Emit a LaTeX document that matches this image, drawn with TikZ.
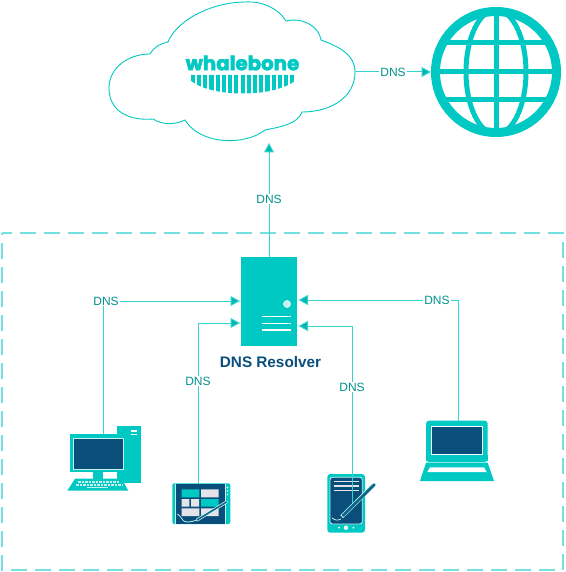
\documentclass[tikz,border=0pt]{standalone}
\usepackage{fontspec}
\setmainfont{Liberation Sans}
\newfontfamily\logofont{Poppins}
\usetikzlibrary{arrows.meta}
\definecolor{teal1}{HTML}{00C9C4}
\definecolor{navy1}{HTML}{0A4F7B}
\definecolor{pale1}{HTML}{C5F0EE}
\definecolor{grey1}{HTML}{E4E4E8}
\tikzset{
  link/.style={draw=teal1!80!white,line width=1pt,-{Triangle[length=9.5pt,width=10pt,fill=teal1!90!black]}},
  dnslabel/.style={fill=white,inner sep=1pt,text=teal1!72!black,font=\fontsize{12}{14}\selectfont},
  bright/.style={fill=teal1,draw=none},
  screen/.style={fill=navy1,draw=pale1,line width=0.8pt},
}
\begin{document}
\begin{tikzpicture}[x=1pt,y=-1pt]
\useasboundingbox (0,0) rectangle (565,572);
% boundary
\draw[teal1!55!white,line width=1.3pt,dash pattern=on 16pt off 8pt,dash phase=6pt] (2,233) -- (563,233) -- (563,570) -- (2,570) -- cycle;
% cloud
\draw[teal1,line width=0.9pt,fill=white]
  (150,54) .. controls (155,46) and (160,44) .. (168,42)
  .. controls (178,18) and (215,2) .. (245,2)
  .. controls (262,1) and (278,8) .. (286,21)
  .. controls (302,17) and (319,26) .. (321,40)
  .. controls (340,47) and (355,55) .. (355,72)
  .. controls (355,98) and (330,112) .. (302,112)
  .. controls (298,124) and (280,127) .. (265,130)
  .. controls (245,146) and (200,145) .. (185,120)
  .. controls (175,125) and (162,125) .. (153,119)
  .. controls (130,121) and (109,112) .. (109,88)
  .. controls (109,68) and (128,54) .. (150,54) -- cycle;
\node[text=teal1,inner sep=0pt,font=\logofont\bfseries\fontsize{19.8}{20}\selectfont] (logo) at (242.5,63) {\special{pdf:literal direct 2 Tr 0.5 w}whalebone\special{pdf:literal direct 0 Tr}};
\begin{scope}
  \clip (190,75) -- (296,75) -- (296,80) .. controls (275,98) and (210,98) .. (190,80) -- cycle;
  \foreach \i in {0,...,16} \fill[teal1] ({190+\i*6.22+0.8},74) rectangle ({190+\i*6.22+4.9},97);
\end{scope}
% globe
\node[circle,draw=teal1,line width=9pt,minimum size=121pt,inner sep=0pt] (globe) at (496,72) {};
\begin{scope}
  \clip (496,72) circle (62pt);
  \draw[teal1,line width=5pt] (431,43)--(561,43) (431,72)--(561,72) (431,100)--(561,100) (496,7)--(496,137);
  \draw[teal1,line width=5pt] (496,72) ellipse (30pt and 62pt);
\end{scope}
% server
\node[rectangle,bright,minimum width=56pt,minimum height=89pt,inner sep=0pt] (server) at (269,301) {};
\fill[pale1,draw=white,line width=0.5pt] (287,304) circle (3.5pt);
\draw[white,line width=1.3pt] (262,316.3)--(290.7,316.3) (262,323.3)--(290.7,323.3) (262,330)--(290.7,330);
\node[text=navy1,font=\bfseries\fontsize{15.3}{17}\selectfont,inner sep=0pt] (srvlabel) at (270.5,362) {DNS Resolver};
\coordinate (srvtop) at (269,256.7);
\coordinate (srvin1) at (240,301);
\coordinate (srvin2) at (240,323);
\coordinate (srvin3) at (298.5,326);
\coordinate (srvin4) at (298.5,300);
\coordinate (cloudbottom) at (269,143);
\coordinate (cloudright) at (355,72);
\coordinate (globeleft) at (431,72);
% pc
\coordinate (pcport) at (103,434);
\fill[teal1] (117,426) rectangle (140.7,482.7);
\draw[white,line width=1.1pt] (131,431)--(136.7,431) (131,434.2)--(136.7,434.2);
\fill[teal1] (70,434) rectangle (127.7,472.3);
\draw[screen] (73.3,438.3) rectangle (123.3,469.3);
\fill[teal1] (93.3,472.3) rectangle (102.7,479);
\fill[teal1] (75,478.7)--(121.7,478.7)--(128.3,490.7)--(67.3,490.7)--cycle;
\foreach \y/\a/\b in {482/78/119,485/76/122} \draw[pale1,line width=1.3pt,dash pattern=on 2.5pt off 1pt] (\a,\y)--(\b,\y);
\draw[pale1,line width=1.3pt] (87,487.8)--(108,487.8);
% tablet
\coordinate (tabport) at (198,484);
\fill[teal1,rounded corners=2pt] (172.3,483.3) rectangle (230.3,524);
\fill[pale1] (175.2,484) rectangle (226.2,523.6);
\fill[navy1] (176.3,484) rectangle (225,523.6);
\fill[teal1] (181.7,489.3) rectangle (199.3,497.3) (201,499) rectangle (218.7,506.7);
\fill[grey1] (201,489.3) rectangle (218.7,497.3) (181.7,499) rectangle (189.3,506.7) (191,499) rectangle (199,506.7)
  (181.7,508.3) rectangle (199.3,516) (201,508.3) rectangle (218.7,516);
\draw[pale1,line width=3pt,line cap=round] (226.5,502)--(197,520);
\draw[navy1!80!teal1,line width=1.5pt,line cap=round] (226.5,502)--(197,520);
\draw[pale1,line width=0.8pt] (177.5,514) .. controls (183,518) and (182,522) .. (187,522) .. controls (191,522) and (194,521) .. (197,520);
\fill[white] (227.5,487.5) circle (0.9pt) (227.5,491) circle (0.9pt) (227.5,494.5) circle (0.9pt);
% pda
\coordinate (pdaport) at (352,503);
\fill[teal1,rounded corners=3pt] (327.3,474) rectangle (365,532.7);
\draw[screen,rounded corners=2.5pt] (330,477.3) rectangle (362.3,524);
\draw[grey1,line width=1.4pt] (334,481.7)--(359.3,481.7) (334,486)--(359.3,486) (334,490.3)--(359.3,490.3);
\draw[pale1,line width=0.8pt] (332,518) .. controls (335,520) and (337,521) .. (341,519);
\draw[pale1,line width=4pt] (373.5,485)--(341.7,516.7);
\fill[white] (339,527.7) circle (1pt) (346,527.7) circle (2.2pt) (353.3,527.7) circle (1pt);
% laptop
\coordinate (lapport) at (458,421);
\fill[teal1,rounded corners=3pt] (426,420.7) rectangle (487.7,462);
\fill[teal1] (426,455) rectangle (487.7,460.7);
\draw[fill=navy1,draw=white,line width=0.7pt] (431.7,426) rectangle (482.7,454.3);
\fill[teal1] (426,462.7)--(487.7,462.7)--(494,481)--(420,481)--cycle;
\fill[white] (430,467.3)--(484,467.3)--(486.7,472)--(427.3,472)--cycle;
% connectors
\path[link] (srvtop) -- node[dnslabel,pos=0.508] (l1) {DNS} (cloudbottom);
\path[link] (cloudright) -- node[dnslabel,pos=0.5] (l2) {DNS} (globeleft);
\path[link] (pcport) |- node[dnslabel,pos=0.511] (l3) {DNS} (srvin1);
\path[link] (tabport) |- node[dnslabel,pos=0.32] (l4) {DNS} (srvin2);
\path[link] (pdaport) |- node[dnslabel,pos=0.328] (l5) {DNS} (srvin3);
\path[link] (lapport) |- node[dnslabel,pos=0.566] (l6) {DNS} (srvin4);
% pda pen, over its connector
\draw[navy1!80!teal1,line width=2.8pt,line cap=round] (374.3,484.7)--(343,515.5);
\end{tikzpicture}
\end{document}
